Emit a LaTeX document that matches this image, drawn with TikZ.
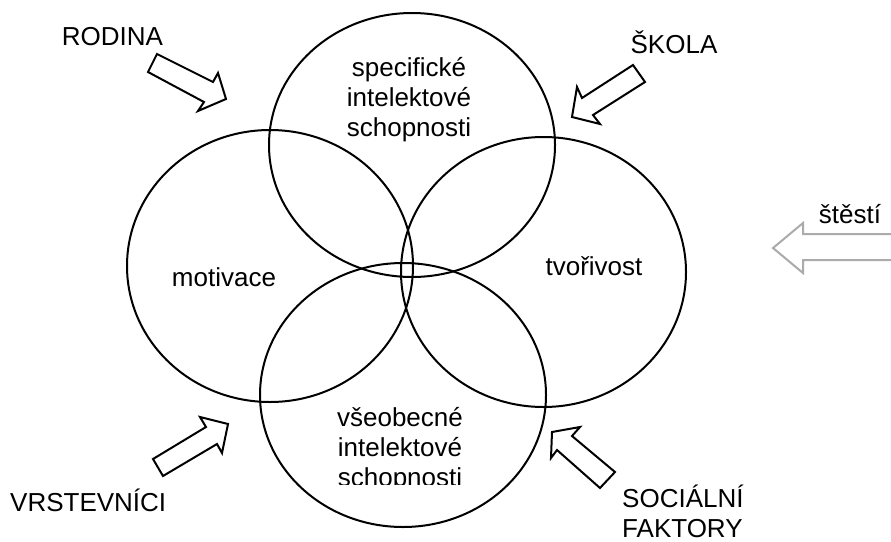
\documentclass[tikz,border=0pt]{standalone}
\usepackage{fontspec}
\setmainfont{Liberation Sans}
\begin{document}
\begin{tikzpicture}[x=1pt,y=-1pt,
  lbl/.style={font=\fontsize{26}{30}\selectfont, inner sep=0pt, align=center},
  venn/.style={draw=black, line width=2pt},
  blockarrow/.style={draw=black, fill=white, line width=2pt, line join=miter},
  grayarrow/.style={draw=black!33, fill=white, line width=2pt, line join=miter}]
\useasboundingbox (0,0) rectangle (891,541);
% ellipses
\draw[venn] (412,145) ellipse [x radius=143, y radius=132];
\draw[venn] (270,266) ellipse [x radius=143, y radius=136];
\draw[venn] (543.5,272) ellipse [x radius=142.5, y radius=135];
\draw[venn] (403,395) ellipse [x radius=143, y radius=132];
% texts inside
\node[lbl, anchor=base] (spec) at (409,136) {specifické\\intelektové\\schopnosti};
\node[lbl, anchor=base] (mot) at (224,286) {motivace};
\node[lbl, anchor=base] (tvor) at (594,275) {tvořivost};
\begin{scope}
\clip (300,380) rectangle (500,484);
\node[lbl, anchor=base] (vseob) at (400,486) {všeobecné\\intelektové\\schopnosti};
\end{scope}
% outside labels
\node[lbl, anchor=base] (rod) at (112.5,45) {RODINA};
\node[lbl, anchor=base] (skola) at (674,53) {ŠKOLA};
\node[lbl, anchor=base] (stesti) at (850,223) {štěstí};
\node[lbl, anchor=base west] (vrst) at (10,511) {VRSTEVNÍCI};
\node[lbl, anchor=base west, align=left] (soc) at (622,537) {SOCIÁLNÍ\\FAKTORY};
% block arrows
\draw[blockarrow] (157,54) -- (213,82) -- (218,73) -- (226,99) -- (198,111) -- (204,102) -- (148,72) -- cycle;
\draw[blockarrow] (633,65) -- (582,98) -- (577,87) -- (572,117) -- (600,124) -- (593,115) -- (645,82) -- cycle;
\draw[blockarrow] (153,459) -- (206,427) -- (200,417) -- (228,424) -- (222,453) -- (217,444) -- (163,476) -- cycle;
\draw[blockarrow] (552,432) -- (580,427) -- (572,436) -- (615,472) -- (600,488) -- (557,450) -- (551,458) -- cycle;
\begin{scope}
\clip (700,200) rectangle (891,300);
\draw[grayarrow] (900,234) -- (803,234) -- (803,223) -- (773,248) -- (803,273) -- (803,260) -- (900,260);
\end{scope}
\end{tikzpicture}
\end{document}
